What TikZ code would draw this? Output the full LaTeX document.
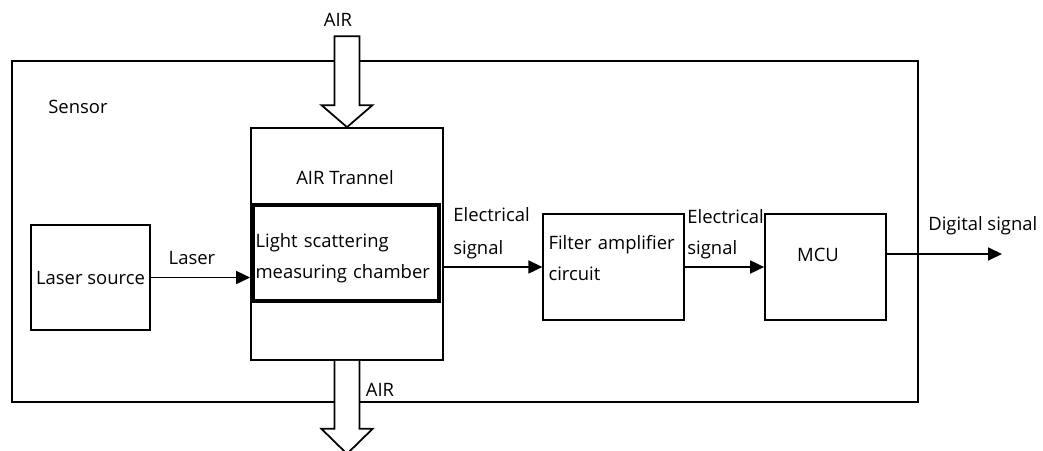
\documentclass[tikz,border=0pt]{standalone}
\usepackage{fontspec}
\setmainfont{Open Sans}
\usetikzlibrary{arrows.meta,positioning,calc}
\tikzset{
  blk/.style={rectangle, draw, line width=1pt, inner sep=3pt,
              font=\fontsize{10.5}{18}\selectfont},
  sarr/.style={-{Triangle[length=2.8mm,width=2.6mm]}, line width=1pt},
  airarr/.style={draw, fill=white, line width=1pt},
  lbl/.style={font=\fontsize{10.5}{13}\selectfont, inner sep=0pt},
}

\begin{document}
\begin{tikzpicture}[x=0.02cm,y=-0.02cm]
        \useasboundingbox (0,0) rectangle (1043,450);
        \node[blk,minimum width=18.12cm,minimum height=6.82cm](sensor) at (465,231.5){};
        \node[lbl](senslbl) at (78,107){Sensor};
        \node[blk,minimum width=2.38cm,minimum height=2.1cm](laser) at (90.5,277.5){Laser source};
        \node[blk,minimum width=3.84cm,minimum height=4.64cm](tunnel) at (347,244){};
        \node[lbl](tunlbl) at (345,178){AIR Trannel};
        \node[blk,line width=1.8pt,minimum width=3.72cm,minimum height=1.92cm,
              text width=3.62cm,align=left,inner sep=1pt,text depth=0.52cm](chamber) at (346,253){Light scattering\\measuring chamber};
        \node[blk,minimum width=2.74cm,minimum height=2.12cm,
              text width=2.6cm,align=left,text depth=1cm](filt) at (613.5,267){Filter amplifier\\circuit};
        \node[blk,minimum width=2.42cm,minimum height=2.12cm,text depth=0.5cm](mcu) at (825.5,267){\hspace*{-0.3cm}MCU};
        \coordinate (out) at (1002,254);
        % air in / air out
        \draw[airarr] (tunnel.north) -- ++(-25.5,-22) -- ++(13,0) -- ++(0,-69) -- ++(25,0)
              -- ++(0,69) -- ++(13,0) -- cycle;
        \draw[airarr] (tunnel.south) ++(-12.5,0) -- ++(0,68) -- ++(-13,0) -- ++(25.5,25)
              -- ++(25.5,-25) -- ++(-13,0) -- ++(0,-68);
        \node[lbl](airin) at (338,20){AIR};
        \node[lbl](airout) at (380,390){AIR};
        % signal path
        \draw[sarr](laser.east) -- (laser.east -| tunnel.west);
        \draw[sarr](filt.west -| tunnel.east) -- (filt.west);
        \draw[sarr](filt.east) -- (mcu.west);
        \draw[sarr](mcu.east |- out) -- (out);
        \node[lbl](laserlbl) at (192,258){Laser};
        \node[lbl,anchor=west](el1) at (453,215){Electrical};
        \node[lbl,anchor=west](sg1) at (453,250){signal};
        \node[lbl,anchor=west](el2) at (687,217){Electrical};
        \node[lbl,anchor=west](sg2) at (687,250){signal};
        \node[lbl,anchor=west](dig) at (928,226){Digital signal};
    \end{tikzpicture}
\end{document}
